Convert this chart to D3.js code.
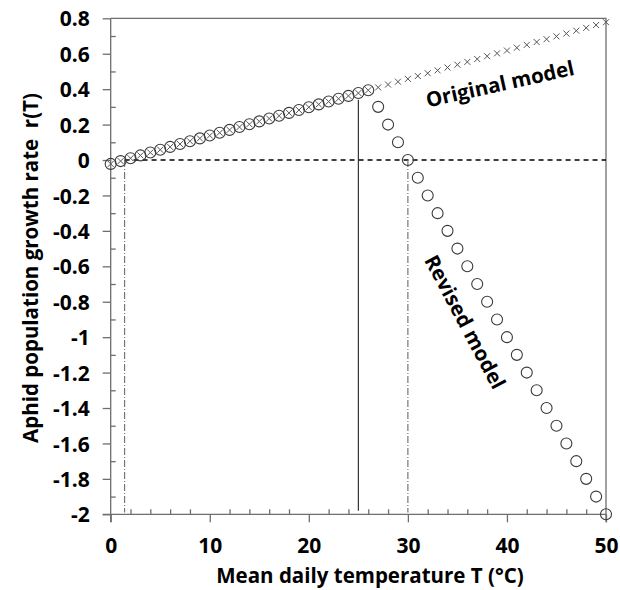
<!DOCTYPE html>
<html>
<head>
<meta charset="utf-8">
<script src="https://cdn.jsdelivr.net/npm/d3@7"></script>
<style>
  body { margin: 0; background: #fff; }
  svg text { font-family: "Open Sans", Lato, sans-serif; font-weight: 700; fill: #000; }
  .axis path, .axis line { stroke: #6e6e6e; stroke-width: 1.3; }
  .axis text { font-size: 21px; }
</style>
</head>
<body>
<svg id="chart" width="620" height="590"></svg>
<script>
// temperatures (°C)
var temps = [0,1,2,3,4,5,6,7,8,9,10,11,12,13,14,15,16,17,18,19,20,21,22,23,24,25,
             26,27,28,29,30,31,32,33,34,35,36,37,38,39,40,41,42,43,44,45,46,47,48,49,50];

// original model r(T)  (× markers)
var originalR = [-0.022,-0.006,0.010,0.026,0.042,0.058,0.074,0.090,0.106,0.122,0.138,
                 0.154,0.170,0.186,0.202,0.218,0.234,0.250,0.266,0.282,0.298,0.314,
                 0.330,0.346,0.362,0.378,0.394,0.410,0.426,0.442,0.458,0.474,0.490,
                 0.506,0.522,0.538,0.554,0.570,0.586,0.602,0.618,0.634,0.650,0.666,
                 0.682,0.698,0.714,0.730,0.746,0.762,0.778];

// revised model r(T)  (o markers)
var revisedR = [-0.022,-0.006,0.010,0.026,0.042,0.058,0.074,0.090,0.106,0.122,0.138,
                0.154,0.170,0.186,0.202,0.218,0.234,0.250,0.266,0.282,0.298,0.314,
                0.330,0.346,0.362,0.378,0.394,0.30,0.20,0.10,0.00,-0.10,-0.20,-0.30,
                -0.40,-0.50,-0.60,-0.70,-0.80,-0.90,-1.00,-1.10,-1.20,-1.30,-1.40,
                -1.50,-1.60,-1.70,-1.80,-1.90,-2.00];

var xTicks = [0, 10, 20, 30, 40, 50];
var xMinor = [2,4,6,8,12,14,16,18,22,24,26,28,32,34,36,38,42,44,46,48];
var yTicks = [0.8,0.6,0.4,0.2,0,-0.2,-0.4,-0.6,-0.8,-1,-1.2,-1.4,-1.6,-1.8,-2];
var yMinor = [0.7,0.5,0.3,0.1,-0.1,-0.3,-0.5,-0.7,-0.9,-1.1,-1.3,-1.5,-1.7,-1.9];

// reference lines
var vLines = [
  {t: 1.4, from: 0, to: -1.99, kind: "dashdot"},
  {t: 30, from: 0, to: -1.99, kind: "dashdot"},
  {t: 25, from: 0.34, to: -1.98, kind: "solid"}
];
var zeroLine = {from: 1.4, to: 50, r: 0};

var svg = d3.select("#chart");

var x = d3.scaleLinear().domain([0, 50]).range([110.7, 606]);
var y = d3.scaleLinear().domain([-2, 0.8]).range([514.3, 18.3]);

// plain hyphen for negatives, like the original
var fmt = function(d) { return String(+d.toFixed(1)); };

// frame (top + right)
svg.append("path")
    .attr("d", "M" + x(0) + "," + y(0.8) + "H" + x(50) + "V" + (y(-2) + 8))
    .attr("fill", "none")
    .attr("stroke", "#6e6e6e")
    .attr("stroke-width", 1.3);

// y axis: major outward, minor inward
svg.append("g")
    .attr("class", "axis")
    .attr("transform", "translate(" + x(0) + ",0)")
    .call(d3.axisLeft(y).tickValues(yTicks).tickSize(8).tickPadding(13).tickFormat(fmt))
    .call(function(g) { g.select(".domain").attr("d", "M0," + y(0.8) + "V" + (y(-2) + 8)); })
    .selectAll("text").attr("dy", "0.36em");

svg.append("g")
    .attr("class", "axis")
    .attr("transform", "translate(" + x(0) + ",0)")
    .call(d3.axisRight(y).tickValues(yMinor).tickSize(5).tickFormat(""))
    .call(function(g) { g.select(".domain").remove(); });

// x axis: major outward, minor inward
svg.append("g")
    .attr("class", "axis")
    .attr("transform", "translate(0," + y(-2) + ")")
    .call(d3.axisBottom(x).tickValues(xTicks).tickSize(8).tickPadding(16))
    .call(function(g) { g.select(".domain").attr("d", "M" + (x(0) - 8) + ",0H" + x(50)); });

svg.append("g")
    .attr("class", "axis")
    .attr("transform", "translate(0," + y(-2) + ")")
    .call(d3.axisTop(x).tickValues(xMinor).tickSize(5).tickFormat(""))
    .call(function(g) { g.select(".domain").remove(); });

// zero dashed line
svg.append("line")
    .attr("x1", x(zeroLine.from)).attr("x2", x(zeroLine.to))
    .attr("y1", y(zeroLine.r)).attr("y2", y(zeroLine.r))
    .attr("stroke", "#000")
    .attr("stroke-width", 1.5)
    .attr("stroke-dasharray", "5,4");

// vertical reference lines
svg.selectAll(".vline")
    .data(vLines)
  .enter().append("line")
    .attr("class", "vline")
    .attr("x1", function(d) { return x(d.t); })
    .attr("x2", function(d) { return x(d.t); })
    .attr("y1", function(d) { return y(d.from); })
    .attr("y2", function(d) { return y(d.to); })
    .attr("stroke", function(d) { return d.kind === "solid" ? "#222" : "#777"; })
    .attr("stroke-width", function(d) { return d.kind === "solid" ? 1.1 : 1.2; })
    .attr("stroke-dasharray", function(d) { return d.kind === "solid" ? null : "7,2,1,2"; });

// original model crosses
svg.selectAll(".cross")
    .data(temps)
  .enter().append("path")
    .attr("class", "cross")
    .attr("transform", function(d, i) { return "translate(" + x(d) + "," + y(originalR[i]) + ")"; })
    .attr("d", "M-3,-3L3,3M-3,3L3,-3")
    .attr("stroke", "#555")
    .attr("stroke-width", 1)
    .attr("fill", "none");

// revised model circles
svg.selectAll(".circ")
    .data(temps)
  .enter().append("circle")
    .attr("class", "circ")
    .attr("cx", function(d) { return x(d); })
    .attr("cy", function(d, i) { return y(revisedR[i]); })
    .attr("r", 5.5)
    .attr("fill", "none")
    .attr("stroke", "#3a3a3a")
    .attr("stroke-width", 1.1);

// model labels
svg.append("text")
    .attr("transform", "translate(500,84) rotate(-12.5)")
    .attr("text-anchor", "middle")
    .attr("dy", "0.35em")
    .style("font-size", "20.5px")
    .text("Original model");

svg.append("text")
    .attr("transform", "translate(465,322) rotate(62)")
    .attr("text-anchor", "middle")
    .attr("dy", "0.35em")
    .style("font-size", "20.5px")
    .text("Revised model");

// axis titles
svg.append("text")
    .attr("x", 370)
    .attr("y", 583)
    .attr("text-anchor", "middle")
    .style("font-size", "20.5px")
    .text("Mean daily temperature T (°C)");

svg.append("text")
    .attr("transform", "translate(38,268) rotate(-90)")
    .attr("text-anchor", "middle")
    .style("font-size", "20.5px")
    .style("white-space", "pre")
    .text("Aphid population growth rate  r(T)");
</script>
</body>
</html>
